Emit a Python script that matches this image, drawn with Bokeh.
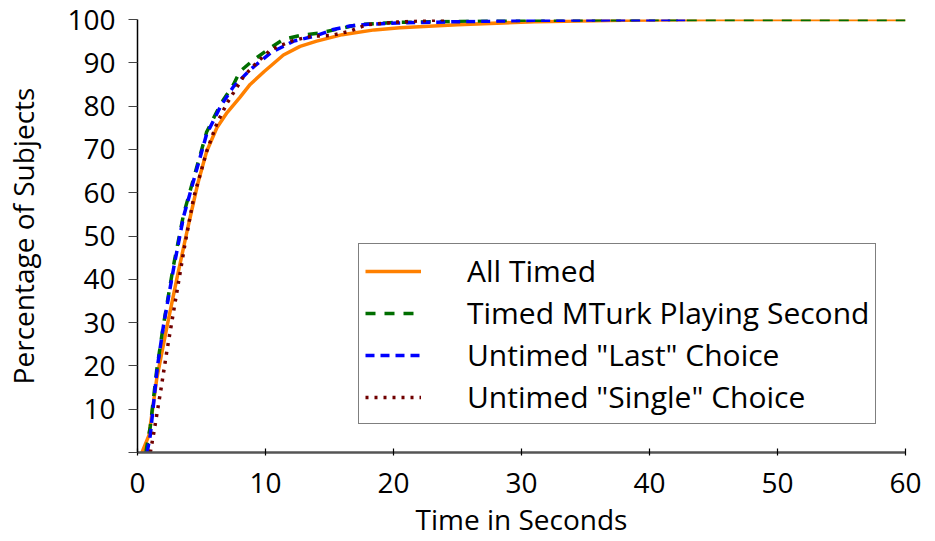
from bokeh.plotting import figure
from bokeh.models import Range1d, FixedTicker, Legend, LegendItem
from bokeh.embed import file_html
from bokeh.resources import INLINE

# ---- data ----
all_timed_x = [0.35, 0.9, 1.5, 2.3, 3.1, 3.9, 4.7, 5.4, 6.2, 7.0, 8.0, 8.8, 9.9, 11.4, 12.7, 14.0, 16.0, 18.5, 20.5, 25.0, 31.0, 38.0, 45.0, 60.0]
all_timed_y = [0, 4, 17, 29, 40.5, 51.5, 62, 69.5, 75, 78.5, 82, 85, 88, 91.8, 93.8, 95, 96.5, 97.6, 98.1, 98.8, 99.5, 99.8, 100, 100]

mturk_x = [0.65, 1.0, 1.5, 2.0, 2.8, 3.6, 4.4, 5.4, 6.5, 7.5, 8.0, 9.0, 10.4, 11.4, 12.7, 14.3, 17.2, 20.0, 25.0, 30.0, 40.0, 50.0, 60.0]
mturk_y = [0, 6, 19, 29, 43, 55, 63.5, 74, 80.5, 85, 88, 90.5, 93.5, 95.4, 96.3, 96.9, 98.8, 99.3, 99.6, 99.8, 100, 100, 100]

last_x = [0.75, 1.0, 1.55, 2.05, 2.85, 3.6, 4.4, 5.4, 6.5, 7.5, 8.8, 10.4, 12.2, 14.0, 15.3, 16.6, 18.0, 20.3, 25.2, 31.0, 36.0, 42.9]
last_y = [0, 4, 19.7, 29.7, 43, 54.5, 63, 73.5, 80, 84.5, 88.4, 92.3, 95, 96.3, 97.7, 98.5, 98.9, 99.2, 99.5, 99.8, 99.9, 100]

single_x = [1.0, 1.3, 1.8, 2.3, 3.1, 3.7, 4.4, 5.4, 6.2, 7.0, 8.3, 9.3, 10.4, 12.0, 13.5, 15.1, 16.6, 17.9, 20.3, 24.2]
single_y = [0, 5, 14, 23.5, 37.5, 48, 59, 69.5, 76, 80.7, 86.9, 90, 93, 95, 96.1, 96.3, 97.3, 98.8, 99.4, 100]

x_ticks = [0, 10, 20, 30, 40, 50, 60]
y_ticks = [0, 10, 20, 30, 40, 50, 60, 70, 80, 90, 100]

labels = ["All Timed", "Timed MTurk Playing Second", 'Untimed "Last" Choice', 'Untimed "Single" Choice']

FONT = "Open Sans"
FS = "28px"
LFS = "30px"

p = figure(frame_width=768, frame_height=433,
           min_border_left=137, min_border_right=22, min_border_top=19, min_border_bottom=81,
           x_range=Range1d(0, 60), y_range=Range1d(0, 100),
           output_backend="svg", toolbar_location=None)
p.outline_line_color = None
p.xgrid.visible = False
p.ygrid.visible = False

r1 = p.line(all_timed_x, all_timed_y, line_color="#ff8000", line_width=3.5)
r2 = p.line(mturk_x, mturk_y, line_color="#006e00", line_width=3.5, line_dash="10 9")
r3 = p.line(last_x, last_y, line_color="#0000ff", line_width=3.5, line_dash="9 6")
r4 = p.line(single_x, single_y, line_color="#700000", line_width=3.5, line_dash="3 6")

# axes
p.xaxis.ticker = FixedTicker(ticks=x_ticks)
p.yaxis.ticker = FixedTicker(ticks=y_ticks)
p.yaxis.major_label_overrides = {0: ""}
p.xaxis.minor_tick_line_color = None
p.yaxis.minor_tick_line_color = None

p.xaxis.axis_label = "Time in Seconds"
p.yaxis.axis_label = "Percentage of Subjects"
for ax in (p.xaxis, p.yaxis):
    ax.axis_label_text_font = FONT
    ax.axis_label_text_font_size = FS
    ax.axis_label_text_font_style = "normal"
    ax.axis_label_text_color = "black"
    ax.major_label_text_font = FONT
    ax.major_label_text_font_size = FS
    ax.major_label_text_color = "black"

p.xaxis.axis_line_color = "#555555"
p.xaxis.axis_line_width = 2.5
p.xaxis.major_tick_line_color = "black"
p.xaxis.major_tick_line_width = 1.2
p.xaxis.major_tick_in = 4
p.xaxis.major_tick_out = 3
p.xaxis.major_label_standoff = 17
p.xaxis.axis_label_standoff = 4

p.yaxis.axis_line_color = "black"
p.yaxis.axis_line_width = 1.5
p.yaxis.major_tick_line_color = "#444444"
p.yaxis.major_tick_line_width = 1.2
p.yaxis.major_tick_in = 0
p.yaxis.major_tick_out = 9
p.yaxis.major_label_standoff = 13
p.yaxis.axis_label_standoff = 22

legend = Legend(items=[LegendItem(label=labels[0], renderers=[r1]),
                       LegendItem(label=labels[1], renderers=[r2]),
                       LegendItem(label=labels[2], renderers=[r3]),
                       LegendItem(label=labels[3], renderers=[r4])],
                location=(221, 28))
legend.margin = 0
legend.padding = 6
legend.spacing = 1
legend.glyph_width = 56
legend.glyph_height = 36
legend.label_height = 36
legend.label_standoff = 46
legend.label_text_font = FONT
legend.label_text_font_size = LFS
legend.label_text_color = "black"
legend.border_line_color = "black"
legend.border_line_width = 1.5
legend.background_fill_color = "white"
legend.background_fill_alpha = 1.0
p.add_layout(legend, "center")

open("out.html", "w").write(file_html(p, INLINE))
